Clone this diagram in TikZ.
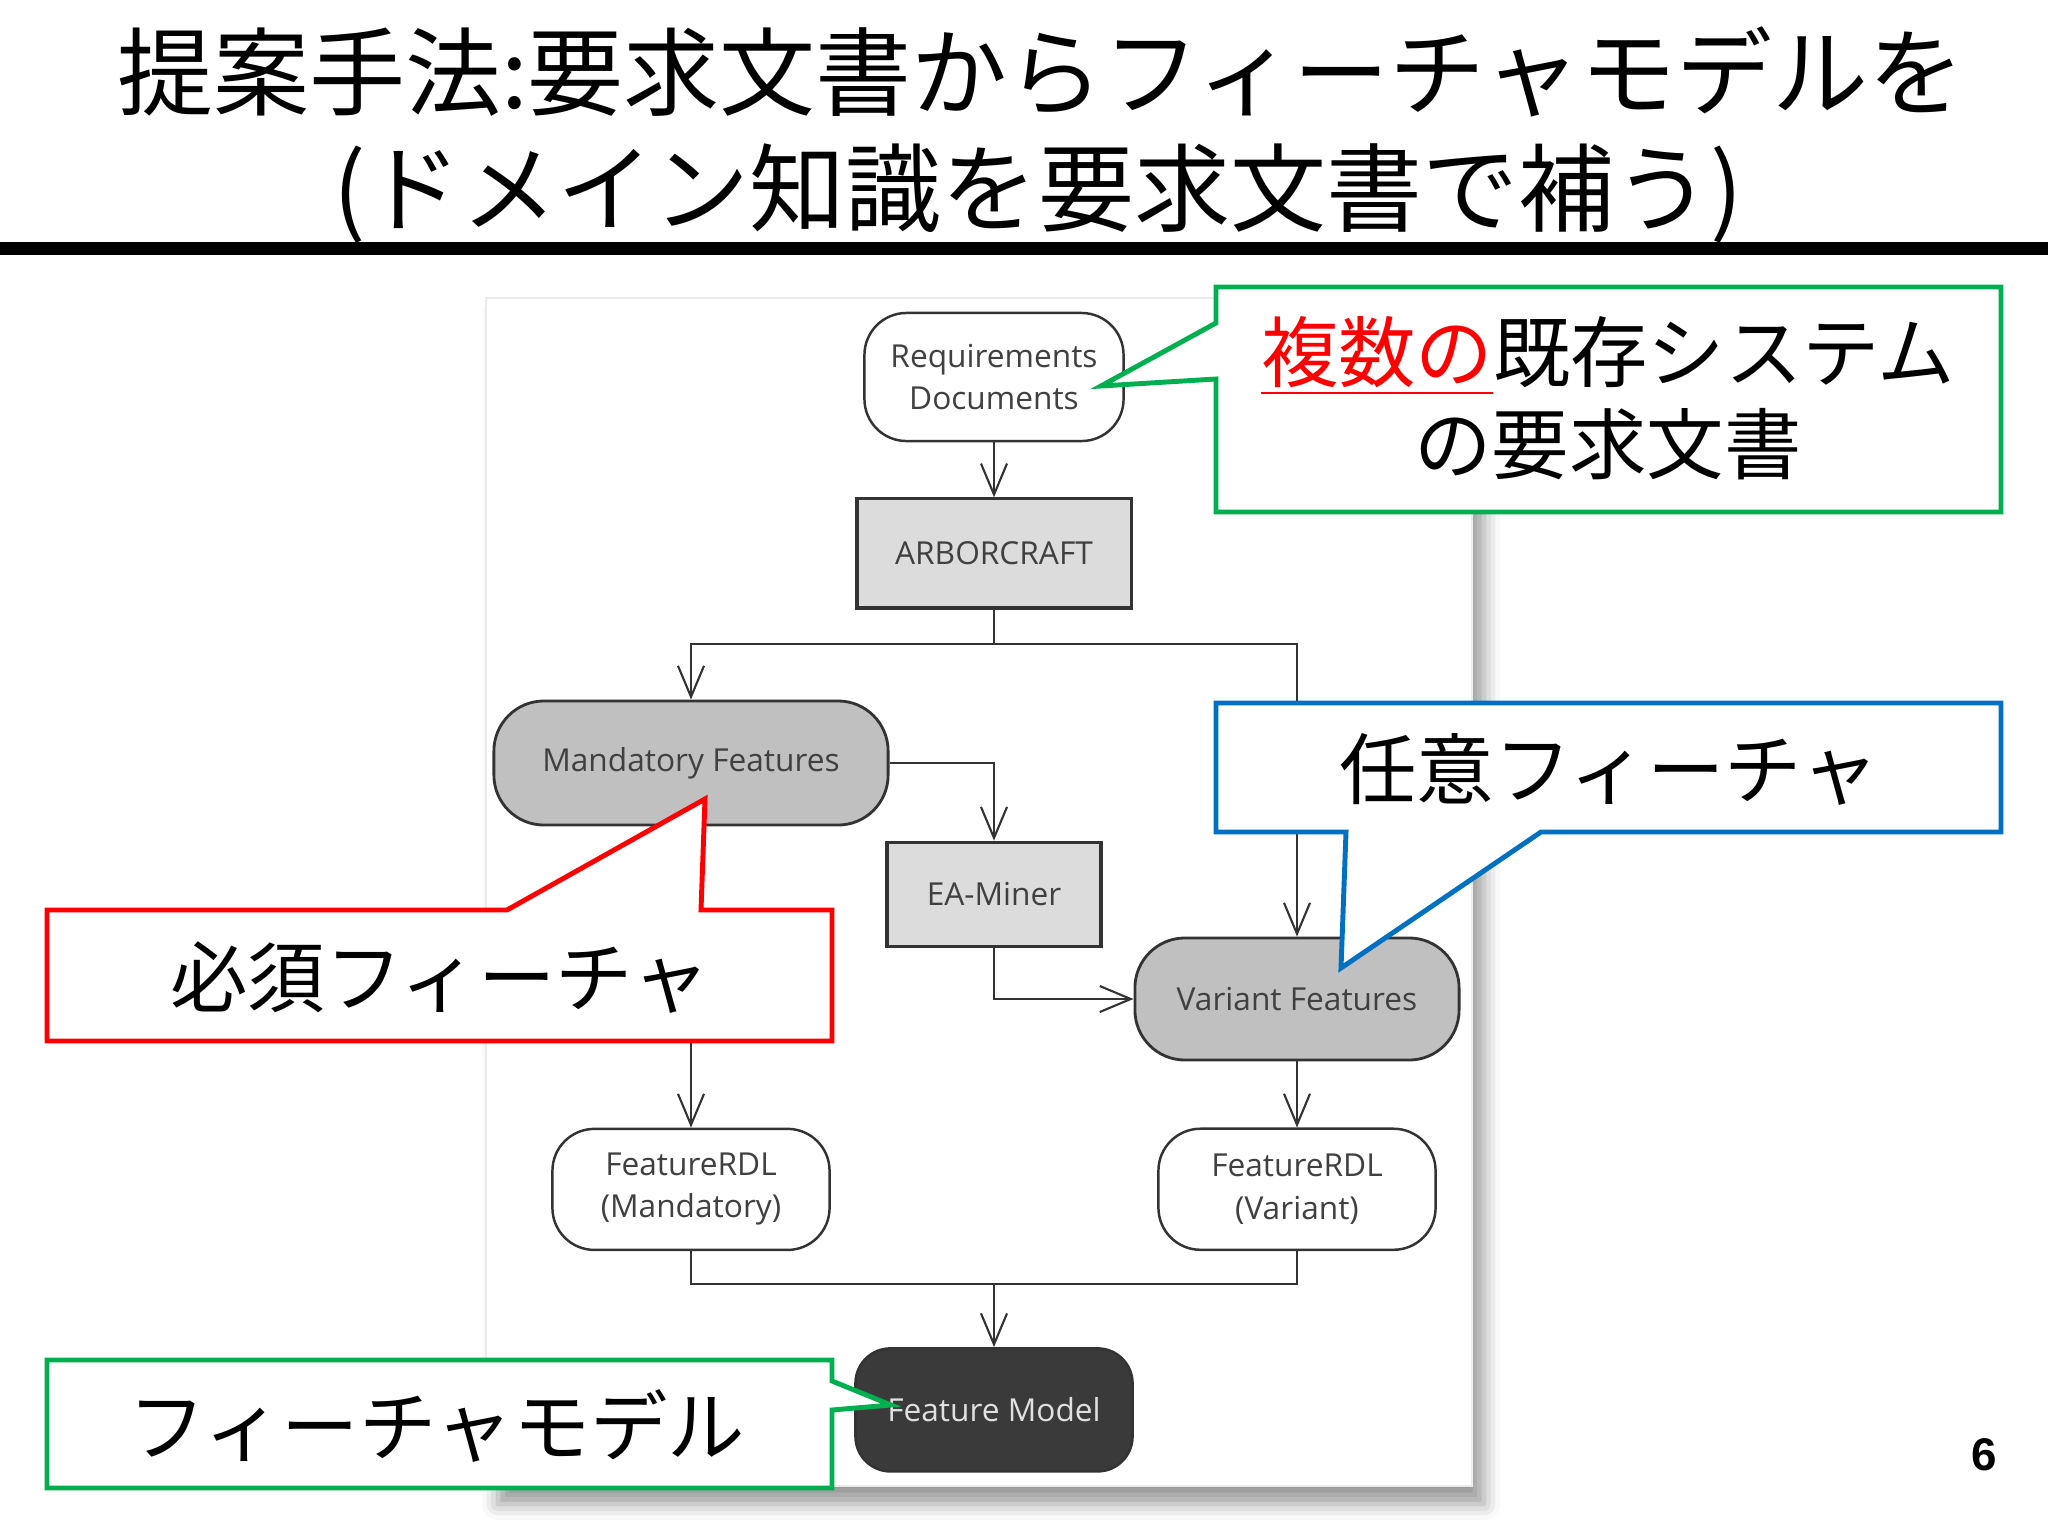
\documentclass[tikz,border=0pt]{standalone}
\usepackage{fontspec}
\setmainfont{Open Sans}
\newfontfamily\jpfont{Noto Sans CJK JP}
\newfontfamily\pagefont{Liberation Sans}
\usetikzlibrary{arrows.meta}
\usetikzlibrary{positioning}
\usetikzlibrary{shadows.blur}
\definecolor{boxline}{HTML}{333333}
\definecolor{labelgray}{HTML}{404040}
\definecolor{toolfill}{HTML}{DCDCDC}
\definecolor{featfill}{HTML}{C0C0C0}
\definecolor{modelfill}{HTML}{3A3A3A}
\definecolor{calloutgreen}{HTML}{00B050}
\definecolor{calloutblue}{HTML}{0070C0}
\tikzstyle{terminal} = [rectangle, rounded corners=0.42cm, draw=boxline, line width=0.7pt, fill=white, text=labelgray, align=center, minimum width=2.77cm, minimum height=1.21cm, inner sep=0pt]
\tikzstyle{tool} = [rectangle, draw=boxline, line width=0.9pt, fill=toolfill, text=labelgray, minimum height=1.06cm, inner sep=0pt]
\tikzstyle{featureset} = [rectangle, rounded corners=0.5cm, draw=boxline, line width=0.8pt, fill=featfill, text=labelgray, minimum height=1.23cm, inner sep=0pt]
\tikzstyle{flow} = [draw=boxline, line width=0.6pt, -{Straight Barb[length=0.31cm,width=0.26cm]}]
\tikzstyle{link} = [draw=boxline, line width=0.6pt]
\tikzstyle{callout} = [line width=1.4pt, fill=white, line join=miter]
\tikzstyle{calloutlabel} = [font=\jpfont\fontsize{22}{26}\selectfont, align=center]

\begin{document}
\begin{tikzpicture}[x=0.01cm,y=-0.01cm,
    font=\fontsize{9}{12}\selectfont,
    title/.style={font=\jpfont\fontsize{27.3}{30}\selectfont}]
  \useasboundingbox (0,0) rectangle (2048,1536);

  % slide title
  \node[title] (head1) at (1041,72) {提案手法:要求文書からフィーチャモデルを};
  \node[title] (head2) at (1038,193) {(ドメイン知識を要求文書で補う)};
  \draw[line width=0.13cm] (0,248) -- (2048,248);

  % the flow chart, on its sheet
  \fill[white, draw=black!8, blur shadow={shadow xshift=0.12cm, shadow yshift=-0.18cm, shadow blur radius=0.16cm, shadow opacity=40}]
    (486,298) rectangle (1472,1486);

  \node[terminal, minimum width=2.59cm, minimum height=1.28cm] (req) at (994,377) {Requirements\\Documents};
  \node[tool, minimum width=2.74cm, minimum height=1.09cm] (arbor) [below=0.55cm of req] {ARBORCRAFT};
  \node[featureset, minimum width=3.94cm, minimum height=1.24cm] (mand) at (691,763) {Mandatory Features};
  \node[tool, minimum width=2.14cm, minimum height=1.04cm] (ea) [below=2.31cm of arbor] {EA-Miner};
  \node[featureset, minimum width=3.24cm, minimum height=1.22cm] (var) at (1297,999) {Variant Features};
  \node[terminal] (frdlm) [below=3.01cm of mand] {FeatureRDL\\(Mandatory)};
  \node[terminal] (frdlv) [below=0.66cm of var] {FeatureRDL\\(Variant)};
  \node[terminal, rounded corners=0.35cm, fill=modelfill, text=black!12, minimum height=1.23cm] (fm) [below=3.99cm of ea] {Feature Model};

  \coordinate (split) at (994,644);
  \coordinate (join) at (994,1284);

  \draw[flow] (req) -- (arbor);
  \draw[link] (arbor) -- (split);
  \draw[flow] (split) -| (mand);
  \draw[flow] (split) -| (var);
  \draw[flow] (mand.east) -| (ea);
  \draw[flow] (ea) |- (var.west);
  \draw[flow] (mand) -- (frdlm);
  \draw[flow] (var) -- (frdlv);
  \draw[link] (frdlm.south) |- (join) -| (frdlv.south);
  \draw[flow] (join) -- (fm);

  % callouts
  \draw[callout, draw=calloutgreen] (1216,287) -- (2001,287) -- (2001,512) -- (1216,512)
    -- (1216,379) -- (1101,386) -- (1216,323) -- cycle;
  \node[calloutlabel] (docs) at (1608,398) {{\color{red}\underline{複数の}}既存システム\\の要求文書};

  \draw[callout, draw=calloutblue] (1216,703) -- (2001,703) -- (2001,832) -- (1541,832)
    -- (1341,968) -- (1346,832) -- (1216,832) -- cycle;
  \node[calloutlabel] (optional) at (1609,769) {任意フィーチャ};

  \draw[callout, draw=red] (47,910) -- (507,910) -- (705,799) -- (701,910)
    -- (832,910) -- (832,1041) -- (47,1041) -- cycle;
  \node[calloutlabel] (must) at (440,978) {必須フィーチャ};

  \draw[callout, draw=calloutgreen] (47,1360) -- (832,1360) -- (832,1381) -- (891,1405)
    -- (832,1410) -- (832,1488) -- (47,1488) -- cycle;
  \node[calloutlabel] (model) at (437,1426) {フィーチャモデル};

  \node[font=\pagefont\bfseries\fontsize{13}{15}\selectfont] (pageno) at (1984,1455) {6};
\end{tikzpicture}
\end{document}
